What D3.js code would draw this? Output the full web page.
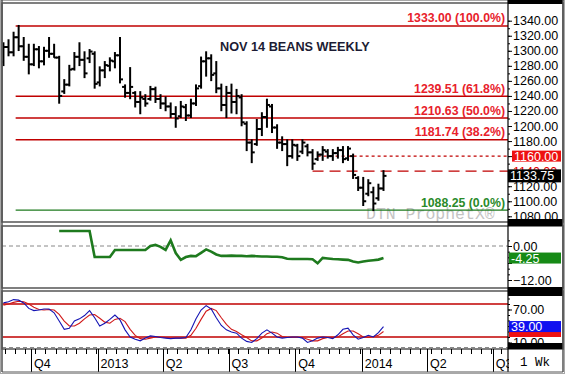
<!DOCTYPE html>
<html>
<head>
<meta charset="utf-8">
<script src="https://cdn.jsdelivr.net/npm/d3@7"></script>
<style>
body { margin: 0; background: #fff; }
svg { display: block; font-family: "Liberation Sans", Arial, sans-serif; }
.axis text { font-size: 12.5px; fill: #000; }
.axis line { stroke: #000; }
</style>
</head>
<body>
<div id="chart"></div>
<script>
///////////////////////////////////////////////////////////////////////////
//////////////////////////////// Data /////////////////////////////////////
///////////////////////////////////////////////////////////////////////////

var firstWeek = "2012-08-24";   // weekly bars, one per Friday

var opens  = [1285,1305,1298,1318,1306,1292,1282,1302,1286,1300,1296,1291,1246,1255,1276,1292,1288,1290,1296,1258,
              1274,1280,1286,1294,1252,1244,1244,1232,1236,1236,1249,1236,1230,1226,1216,1213,1225,1214,1230,1253,
              1286,1290,1270,1250,1228,1244,1232,1238,1203,1178,1176,1196,1212,1226,1198,1178,1176,1160,1174,1166,
              1173,1165,1156,1162,1166,1160,1164,1168,1157,1160,1131,1118,1110,1112,1104,1117];
var highs  = [1310,1314,1324,1333,1317,1308,1308,1305,1304,1317,1308,1292,1261,1280,1297,1310,1298,1301,1298,1278,
              1285,1290,1297,1317,1254,1277,1245,1245,1241,1252,1251,1241,1238,1230,1225,1232,1228,1235,1254,1291,
              1298,1294,1285,1255,1252,1255,1248,1241,1205,1181,1208,1217,1235,1228,1201,1185,1181,1181,1175,1181,
              1175,1168,1165,1172,1168,1168,1171,1172,1172,1162,1132,1131,1128,1118,1122,1140];
var lows   = [1281,1294,1294,1301,1288,1270,1281,1278,1282,1292,1292,1231,1244,1254,1275,1281,1265,1285,1251,1254,
              1265,1274,1278,1258,1239,1237,1226,1217,1227,1235,1232,1224,1221,1212,1199,1212,1208,1212,1228,1251,
              1267,1261,1245,1221,1212,1218,1217,1201,1168,1152,1175,1188,1199,1192,1171,1168,1148,1158,1155,1164,
              1161,1143,1155,1155,1158,1155,1158,1152,1155,1131,1115,1095,1108,1088.25,1102,1115];
var closes = [1305,1298,1318,1306,1292,1282,1302,1286,1300,1296,1291,1240,1255,1275,1292,1288,1270,1299,1256,1274,
              1281,1287,1294,1262,1244,1252,1232,1238,1230,1249,1236,1230,1226,1216,1210,1226,1214,1230,1250,1286,
              1290,1268,1250,1228,1244,1232,1240,1205,1178,1165,1196,1212,1228,1198,1178,1176,1160,1175,1160,1178,
              1165,1150,1162,1168,1160,1164,1168,1156,1170,1135,1118,1100,1124,1097,1117,1133.75];

// momentum (middle panel), starts after the look-back
var momentum = [null,null,null,null,null,null,null,null,null,null,null,
                5.3,5.3,5.3,5.3,5.3,5.3,5.3,-3.9,-3.9,-3.9,-3.9,-1.4,-1.4,-1.4,-1.4,-1.4,-1.4,-1.4,
                0.0,0.4,-0.3,-1.4,2.0,-2.5,-4.9,-3.9,-3.5,-3.6,
                -2.4,-1.2,-2.0,-3.0,-3.5,-3.5,-3.4,-3.5,-3.5,-3.6,-3.5,-3.6,-3.7,-3.7,-3.8,-3.8,-4.0,-4.5,
                -4.6,-4.6,-4.6,-4.6,-4.7,-6.1,-4.2,-4.4,-4.6,-4.7,-4.8,-4.9,-5.5,-5.8,-5.5,-5.2,-5.0,-4.8,-4.25];

// stochastics (bottom panel)
var stochK = [82,84,88,87,82,72,68,69,71,71,64,49,34,36,49,53,59,68,55,40,
              45,52,60,51,33,20,16,13,18,22,21,19,18,17,18,18,19,33,53,69,
              77,71,55,41,33,29,27,18,12,10,17,27,33,27,20,18,19,20,20,18,
              10,13,18,20,19,17,24,34,36,24,16,19,23,20,28,39];
var stochD = [78,80,83,85,84,80,74,70,69,70,69,61,49,40,40,45,53,60,61,54,
              47,45,52,54,48,34,23,17,16,18,20,20,19,18,18,18,18,23,36,52,
              67,72,68,55,43,34,30,24,19,13,13,18,26,29,27,21,19,19,19,19,
              16,13,13,17,19,19,20,26,31,31,26,20,19,21,23,30];

// retracement levels
var fibValues = [1333.00, 1239.51, 1210.63, 1181.74, 1088.25];
var fibPcts   = ["100.0%", "61.8%", "50.0%", "38.2%", "0.0%"];

var priceTicks = [1340,1320,1300,1280,1260,1240,1220,1200,1180,1160,1140,1120,1100,1080];
var momTicks   = [0, -6, -12];
var stochTicks = [70, 40, 10];

///////////////////////////////////////////////////////////////////////////
//////////////////// Set up and initiate svg containers ///////////////////
///////////////////////////////////////////////////////////////////////////

var width = 565, height = 374;
var plotLeft = 2, plotRight = 508, axisRight = 563;

var svg = d3.select("#chart").append("svg")
    .attr("width", width)
    .attr("height", height);

svg.append("rect").attr("width", width).attr("height", height).attr("fill", "#fff");

var parse = d3.timeParse("%Y-%m-%d");
var dates = closes.map(function(d, i) { return d3.timeDay.offset(parse(firstWeek), 7 * i); });

var x = d3.scaleTime()
    .domain([parse("2012-08-22"), parse("2014-07-22")])
    .range([plotLeft, plotRight]);

// panels
var p1 = {top: 3, bottom: 222},
    p2 = {top: 226, bottom: 288},
    p3 = {top: 291, bottom: 349};

var y1 = d3.scaleLinear().domain([1080, 1340]).range([216.3, 20.7]);
var y2 = d3.scaleLinear().domain([0, -12]).range([246, 280]);
var y3 = d3.scaleLinear().domain([0, 100]).range([348, 293]);

var lastClose = closes[closes.length - 1],
    lastMom = momentum[momentum.length - 1],
    lastK = stochK[stochK.length - 1],
    lastD = stochD[stochD.length - 1];

var defs = svg.append("defs");
[p1, p2, p3].forEach(function(p, i) {
    defs.append("clipPath").attr("id", "clip" + i)
      .append("rect")
        .attr("x", plotLeft).attr("y", p.top)
        .attr("width", plotRight - plotLeft).attr("height", p.bottom - p.top);
});

///////////////////////////////////////////////////////////////////////////
////////////////////////////// Price panel ////////////////////////////////
///////////////////////////////////////////////////////////////////////////

var g1 = svg.append("g").attr("clip-path", "url(#clip0)");

//Watermark
g1.append("text")
    .attr("x", 366).attr("y", 219)
    .style("font-family", "'Liberation Mono', 'Courier New', monospace")
    .style("font-size", "16.5px")
    .style("fill", "#c4c4c4")
    .text("DTN ProphetX\u00AE");

//Title
g1.append("text")
    .attr("x", 220).attr("y", 51)
    .style("font-size", "12.7px")
    .style("font-weight", "bold")
    .style("fill", "#1c1c34")
    .text("NOV 14 BEANS WEEKLY");

//Retracement lines start at the high
var fibStart = x(dates[highs.indexOf(d3.max(highs))]) - 3;

g1.selectAll(".fib")
    .data(fibValues)
    .enter().append("line")
    .attr("x1", fibStart).attr("x2", plotRight)
    .attr("y1", function(d) { return y1(d); })
    .attr("y2", function(d) { return y1(d); })
    .style("stroke", function(d, i) { return i === fibValues.length - 1 ? "#1e7a1e" : "#c00000"; })
    .style("stroke-width", 1.4);

g1.selectAll(".fibLabel")
    .data(fibValues)
    .enter().append("text")
    .attr("text-anchor", "end")
    .attr("x", plotRight - 3)
    .attr("y", function(d) { return y1(d) - 3.5; })
    .style("font-size", "12.3px")
    .style("font-weight", "bold")
    .style("fill", function(d, i) { return i === fibValues.length - 1 ? "#2a8a2a" : "#e8212b"; })
    .text(function(d, i) { return d.toFixed(2) + " (" + fibPcts[i] + ")"; });

//Dashed reference lines
g1.append("line")
    .attr("x1", x(dates[62])).attr("x2", plotRight)
    .attr("y1", y1(1160)).attr("y2", y1(1160))
    .style("stroke", "#c00000").style("stroke-width", 1.2)
    .style("stroke-dasharray", "3,3");
g1.append("line")
    .attr("x1", x(dates[61])).attr("x2", plotRight)
    .attr("y1", y1(1140)).attr("y2", y1(1140))
    .style("stroke", "#c00000").style("stroke-width", 1.2)
    .style("stroke-dasharray", "11,6");

//OHLC bars
var bars = g1.selectAll(".bar")
    .data(dates)
    .enter().append("g")
    .attr("class", "bar")
    .style("stroke", "#000")
    .style("stroke-width", 2);

bars.append("line")
    .attr("x1", function(d) { return x(d); }).attr("x2", function(d) { return x(d); })
    .attr("y1", function(d, i) { return y1(highs[i]) - 1; })
    .attr("y2", function(d, i) { return y1(lows[i]) + 1; });
bars.append("line")
    .attr("x1", function(d) { return x(d) - 3; }).attr("x2", function(d) { return x(d); })
    .attr("y1", function(d, i) { return y1(opens[i]); })
    .attr("y2", function(d, i) { return y1(opens[i]); });
bars.append("line")
    .attr("x1", function(d) { return x(d); }).attr("x2", function(d) { return x(d) + 3; })
    .attr("y1", function(d, i) { return y1(closes[i]); })
    .attr("y2", function(d, i) { return y1(closes[i]); });

///////////////////////////////////////////////////////////////////////////
///////////////////////////// Momentum panel //////////////////////////////
///////////////////////////////////////////////////////////////////////////

var g2 = svg.append("g").attr("clip-path", "url(#clip1)");

g2.append("line")
    .attr("x1", plotLeft).attr("x2", plotRight)
    .attr("y1", y2(0)).attr("y2", y2(0))
    .style("stroke", "#888").style("stroke-dasharray", "4,3");

var momLine = d3.line()
    .defined(function(d) { return d !== null; })
    .x(function(d, i) { return x(dates[i]); })
    .y(function(d) { return y2(d); });

g2.append("path")
    .datum(momentum)
    .attr("d", momLine)
    .style("fill", "none")
    .style("stroke", "#1e7a1e")
    .style("stroke-width", 2.6);

///////////////////////////////////////////////////////////////////////////
//////////////////////////// Stochastic panel /////////////////////////////
///////////////////////////////////////////////////////////////////////////

var g3 = svg.append("g").attr("clip-path", "url(#clip2)");

g3.append("line")
    .attr("x1", plotLeft).attr("x2", plotRight)
    .attr("y1", y3(0) - 0.5).attr("y2", y3(0) - 0.5)
    .style("stroke", "#888").style("stroke-dasharray", "4,3");

[80, 20].forEach(function(v) {
    g3.append("line")
        .attr("x1", plotLeft).attr("x2", plotRight)
        .attr("y1", y3(v)).attr("y2", y3(v))
        .style("stroke", "#c00000").style("stroke-width", 1.3);
});

var stochLine = d3.line()
    .x(function(d, i) { return x(dates[i]); })
    .y(function(d) { return y3(d); });

g3.append("path").datum(stochD).attr("d", stochLine)
    .style("fill", "none").style("stroke", "#d01818").style("stroke-width", 1.1);
g3.append("path").datum(stochK).attr("d", stochLine)
    .style("fill", "none").style("stroke", "#1414b4").style("stroke-width", 1.1);

///////////////////////////////////////////////////////////////////////////
/////////////////////////////// Frames ////////////////////////////////////
///////////////////////////////////////////////////////////////////////////

svg.append("rect")
    .attr("x", 0.5).attr("y", 0.5).attr("width", width - 1).attr("height", height - 1)
    .style("fill", "none").style("stroke", "#a8a8a8");

[p1, p2, p3].forEach(function(p) {
    svg.append("rect")
        .attr("x", plotLeft).attr("y", p.top)
        .attr("width", axisRight - plotLeft).attr("height", p.bottom - p.top)
        .style("fill", "none").style("stroke", "#555").style("stroke-width", 1.5);
});

//black bands in the scale column
[[0, 4], [219, 226], [287, 296], [343, 349]].forEach(function(b) {
    svg.append("rect")
        .attr("x", plotRight).attr("y", b[0])
        .attr("width", axisRight - plotRight).attr("height", b[1] - b[0])
        .style("fill", "#000");
});

svg.append("line")
    .attr("x1", plotRight).attr("x2", plotRight)
    .attr("y1", 0).attr("y2", height - 2)
    .style("stroke", "#000").style("stroke-width", 1.2);

///////////////////////////////////////////////////////////////////////////
/////////////////////////////// Y axes ////////////////////////////////////
///////////////////////////////////////////////////////////////////////////

function minorAxis(scale, values) {
    return d3.axisRight(scale).tickValues(values).tickSize(2).tickFormat("");
}

//tick labels that sit fully under a value flag are left blank
function labelUnless(hidden) {
    var fmt = d3.format(".2f");
    return function(d) { return hidden.indexOf(d) >= 0 ? "" : fmt(d); };
}

// price
svg.append("g").attr("class", "axis")
    .attr("transform", "translate(" + plotRight + ",0)")
    .call(minorAxis(y1, d3.range(1080, 1345, 10)))
    .select(".domain").remove();
svg.append("g").attr("class", "axis")
    .attr("transform", "translate(" + plotRight + ",0)")
    .call(d3.axisRight(y1).tickValues(priceTicks).tickSize(4).tickPadding(1).tickFormat(labelUnless([1160, 1140])))
    .select(".domain").remove();

// momentum
svg.append("g").attr("class", "axis")
    .attr("transform", "translate(" + plotRight + ",0)")
    .call(minorAxis(y2, d3.range(-12, 4, 2)))
    .select(".domain").remove();
svg.append("g").attr("class", "axis")
    .attr("transform", "translate(" + plotRight + ",0)")
    .call(d3.axisRight(y2).tickValues(momTicks).tickSize(4).tickPadding(1).tickFormat(labelUnless([-6])))
    .select(".domain").remove();

// stochastics
svg.append("g").attr("class", "axis")
    .attr("transform", "translate(" + plotRight + ",0)")
    .call(minorAxis(y3, d3.range(10, 100, 10)))
    .select(".domain").remove();
svg.append("g").attr("class", "axis")
    .attr("transform", "translate(" + plotRight + ",0)")
    .call(d3.axisRight(y3).tickValues(stochTicks).tickSize(4).tickPadding(1).tickFormat(labelUnless([40])))
    .select(".domain").remove();

//Value flags on the scale column
function flag(yPos, txt, bg, fg, x0, h) {
    svg.append("rect")
        .attr("x", x0).attr("y", yPos - h / 2)
        .attr("width", axisRight - x0 - 2).attr("height", h)
        .style("fill", bg);
    if (txt) {
        svg.append("text")
            .attr("x", x0 + 2).attr("y", yPos).attr("dy", "0.36em")
            .style("font-size", "12.5px").style("fill", fg)
            .text(txt);
    }
}

flag(y1(1160), (1160).toFixed(2), "#ee1111", "#fff", 512, 11);
// the 1140 flag sits under the last-price flag, only its top shows
svg.append("text")
    .attr("x", 513).attr("y", y1(1140)).attr("dy", "0.36em")
    .style("font-size", "12.5px").style("fill", "#e00000")
    .text((1140).toFixed(2));
flag(y1(lastClose), lastClose.toFixed(2), "#000", "#fff", 508, 13);

flag(y2(lastMom), lastMom.toFixed(2), "#168a16", "#fff", 509, 11);

// the %D flag sits below the %K flag, only its edge shows
flag(y3(lastD), null, "#ee1111", "#fff", 509, 11);
flag(y3(lastK), lastK.toFixed(2), "#1010f0", "#fff", 509, 11);

///////////////////////////////////////////////////////////////////////////
/////////////////////////////// X axis ////////////////////////////////////
///////////////////////////////////////////////////////////////////////////

var xg = svg.append("g").attr("class", "xaxis");
var axisTop = p3.bottom;

xg.selectAll(".minor")
    .data(x.ticks(d3.timeWeek.every(2)))
    .enter().append("line")
    .attr("x1", function(d) { return Math.round(x(d)) + 0.5; })
    .attr("x2", function(d) { return Math.round(x(d)) + 0.5; })
    .attr("y1", axisTop).attr("y2", axisTop + 5)
    .style("stroke", "#000");

var quarters = x.ticks(d3.timeMonth.every(3));
xg.selectAll(".major")
    .data(quarters)
    .enter().append("line")
    .attr("x1", function(d) { return Math.round(x(d)) + 0.5; })
    .attr("x2", function(d) { return Math.round(x(d)) + 0.5; })
    .attr("y1", axisTop).attr("y2", height - 2)
    .style("stroke", "#000");

xg.selectAll(".qlabel")
    .data(quarters)
    .enter().append("text")
    .attr("x", function(d) { return x(d) + 3; })
    .attr("y", 368)
    .style("font-size", "12.5px")
    .style("fill", "#000")
    .text(function(d) {
        return d.getMonth() === 0 ? d.getFullYear() : "Q" + (d.getMonth() / 3 + 1);
    });

//cover label overflow in the scale column
svg.append("rect")
    .attr("x", plotRight + 1).attr("y", axisTop + 1)
    .attr("width", axisRight - plotRight - 1).attr("height", height - axisTop - 3)
    .style("fill", "#fff");
svg.append("text")
    .attr("x", 520).attr("y", 366)
    .style("font-family", "'Liberation Mono', 'Courier New', monospace")
    .style("font-size", "12.5px")
    .style("fill", "#000")
    .text("1 Wk");

svg.append("line")
    .attr("x1", plotLeft).attr("x2", axisRight)
    .attr("y1", height - 2).attr("y2", height - 2)
    .style("stroke", "#555");
svg.append("line")
    .attr("x1", plotLeft).attr("x2", plotLeft)
    .attr("y1", 0).attr("y2", height - 2)
    .style("stroke", "#555").style("stroke-width", 1.5);
svg.append("line")
    .attr("x1", axisRight).attr("x2", axisRight)
    .attr("y1", 0).attr("y2", height - 2)
    .style("stroke", "#555").style("stroke-width", 1.5);
</script>
</body>
</html>
